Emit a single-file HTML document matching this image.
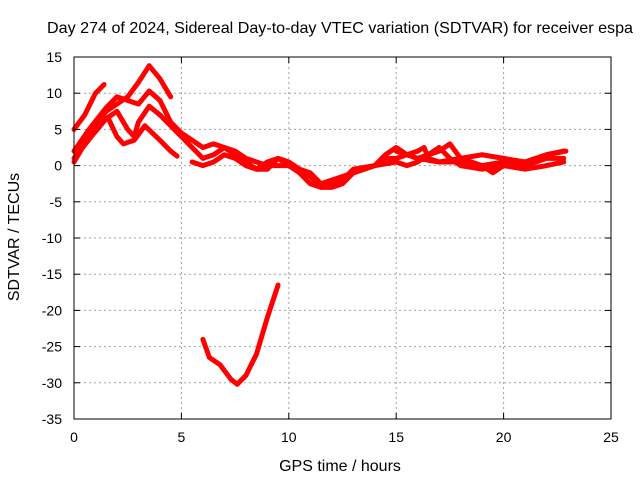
<!DOCTYPE html>
<html><head><meta charset="utf-8"><style>
body{margin:0;background:#fff}
svg{display:block;font-family:"Liberation Sans",sans-serif}
</style></head><body>
<svg id="chart" width="640" height="480">
<text x="47" y="33" font-size="16" textLength="586" lengthAdjust="spacingAndGlyphs">Day 274 of 2024, Sidereal Day-to-day VTEC variation (SDTVAR) for receiver espa</text>
<g id="grid"></g>
<g id="series"></g>
<rect x="74" y="57" width="537" height="362" fill="none" stroke="#000" stroke-width="1"/>
<g id="ticks"></g>
<text x="340" y="471" font-size="16" text-anchor="middle">GPS time / hours</text>
<text transform="translate(19,237) rotate(-90)" font-size="16" text-anchor="middle">SDTVAR / TECUs</text>
</svg>
<script>
const xTicks=[0,5,10,15,20,25];
const yTicks=[15,10,5,0,-5,-10,-15,-20,-25,-30,-35];
const s1=[[0,5],[0.5,7],[1,10],[1.4,11.2]];
const s2=[[0,0.5],[0.5,3],[1,5.5],[1.5,7.5],[2,8.5],[2.5,9.5],[3,11.5],[3.5,13.8],[4,12],[4.5,9.5]];
const s3=[[0,2],[0.7,5],[1.5,8],[2,9.5],[2.5,9],[3,8.5],[3.5,10.3],[4,9],[4.5,6],[5,4.5],[5.5,3.5],[6,2.5],[6.5,3],[7,2.5],[7.5,1.5],[8,0.5],[8.5,-0.5],[9,-0.5],[9.5,1],[10,0.5],[10.5,-0.5],[11,-1.5],[11.5,-3],[12,-2.5],[12.5,-2],[13,-0.5],[14,0],[14.5,1.5],[15,2.5],[15.5,1.5],[16,1],[17,0.5],[18,0.5],[19,0],[20,0.5],[21,0.5],[22,1.5],[22.8,2]];
const s4=[[0,1],[0.8,4],[1.5,6.5],[2,7.5],[2.5,5],[2.8,4],[3,6],[3.5,8.2],[4,7],[4.5,5.5],[5,4],[5.5,2.5],[6,1],[6.5,1.5],[7,2.5],[7.5,2],[8,1],[9,0],[10,0],[10.5,-0.5],[11,-1],[11.5,-2.5],[12,-2],[12.5,-1.5],[13,-1],[14,0],[15,0.5],[15.5,0],[16,0.5],[16.5,1.5],[17,2.5],[17.5,1],[18,0],[19,-0.5],[20,0],[21,0],[22,1],[22.8,1]];
const s5=[[1.6,6.5],[2,4],[2.3,3],[2.8,3.5],[3.3,5.5],[4,3.5],[4.5,2],[4.8,1.3]];
const s6=[[5.5,0.5],[6,0],[6.5,0.5],[7,1.5],[7.5,1],[8,0],[8.5,-0.5],[9,0.5],[9.5,1],[10,0],[10.5,-1],[11,-2.5],[11.5,-3],[12,-3],[12.5,-2.5],[13,-1],[13.5,-0.5],[14,0],[14.5,1],[15,1],[15.5,1.5],[16,2],[16.3,2.5],[16.5,1],[17,0.5],[18,1],[19,1.5],[20,1],[21,0.5],[21.5,1],[22,1.5],[22.9,2]];
const s7=[[15,2],[16,1],[17,2],[17.5,3],[18,1],[19,0],[19.5,-1],[20,0],[21,-0.5],[22,0],[22.8,0.5]];
const s8=[[6,-24],[6.3,-26.5],[6.8,-27.5],[7.3,-29.5],[7.6,-30.2],[8,-29],[8.5,-26],[9,-21],[9.5,-16.5]];
const seriesList=[s1,s2,s3,s4,s5,s6,s7,s8];
const NS="http://www.w3.org/2000/svg";
const X0=74,X1=611,Y0=57,Y1=419;
const xs=h=>X0+(h-0)/25*(X1-X0);
const ys=v=>Y0+(15-v)/50*(Y1-Y0);
const grid=document.getElementById('grid'),ticks=document.getElementById('ticks'),ser=document.getElementById('series');
function mk(tag,attrs,parent){const e=document.createElementNS(NS,tag);for(const k in attrs)e.setAttribute(k,attrs[k]);parent.appendChild(e);return e;}
xTicks.forEach(t=>{const x=xs(t);
 if(t>0&&t<25){const g=mk('line',{x1:x,x2:x,y1:Y0,y2:Y1,stroke:'#a0a0a0','stroke-dasharray':'2,3'},grid);
 
 }
 mk('line',{x1:x,x2:x,y1:Y1,y2:Y1-6,stroke:'#000'},ticks);mk('line',{x1:x,x2:x,y1:Y0,y2:Y0+6,stroke:'#000'},ticks);
 const l=mk('text',{x:x,y:Y1+23,'font-size':14,'text-anchor':'middle'},ticks);l.textContent=t;
 
 });
yTicks.forEach(t=>{const y=ys(t);
 if(t<15&&t>-35){const g=mk('line',{x1:X0,x2:X1,y1:y,y2:y,stroke:'#a0a0a0','stroke-dasharray':'2,3'},grid);
 
 }
 mk('line',{x1:X0,x2:X0+6,y1:y,y2:y,stroke:'#000'},ticks);mk('line',{x1:X1,x2:X1-6,y1:y,y2:y,stroke:'#000'},ticks);
 const l=mk('text',{x:X0-12,y:y+5,'font-size':14,'text-anchor':'end'},ticks);l.textContent=t;
 
 });
seriesList.forEach((s,i)=>{const p=mk('polyline',{points:s.map(d=>xs(d[0])+','+ys(d[1])).join(' '),fill:'none',stroke:'#ff0000','stroke-width':5,'stroke-linejoin':'round','stroke-linecap':'round'},ser);
 
 });
</script>
</body></html>
